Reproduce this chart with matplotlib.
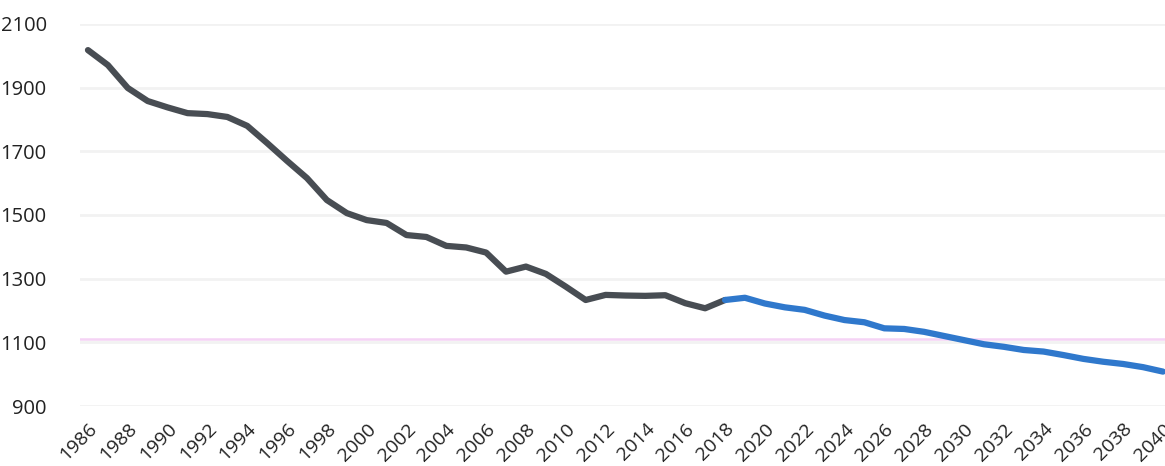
import matplotlib
matplotlib.use('Agg')
import matplotlib.pyplot as plt

# ── Datos ──
years_hist = list(range(1986, 2019))
values_hist = [2018, 1971, 1899, 1858, 1838, 1820, 1817, 1808, 1780, 1726,
               1670, 1616, 1547, 1506, 1484, 1475, 1437, 1431, 1403, 1398,
               1382, 1322, 1338, 1315, 1275, 1233, 1249, 1247, 1246, 1248,
               1223, 1207, 1233]

years_proj = list(range(2018, 2041))
values_proj = [1233, 1240, 1222, 1210, 1202, 1184, 1170, 1163, 1144, 1142,
               1133, 1120, 1107, 1094, 1086, 1076, 1071, 1060, 1048, 1039,
               1032, 1022, 1008]

ref_level = 1112
y_ticks = [900, 1100, 1300, 1500, 1700, 1900, 2100]
x_ticks = list(range(1986, 2041, 2))

plt.rcParams['font.family'] = ['Open Sans', 'DejaVu Sans']

fig = plt.figure(figsize=(11.65, 4.66), dpi=100)
ax = fig.add_axes([80 / 1165, 60 / 466, 1085 / 1165, 382 / 466])

for yt in y_ticks:
    ax.axhline(yt, color='#f2f2f2', linewidth=2, zorder=0)
ax.axhline(ref_level, color='#f5d3f5', linewidth=1.8, zorder=1)

ax.plot(years_hist, values_hist, color='#484d53', linewidth=4.5,
        solid_capstyle='round', solid_joinstyle='round', zorder=3)
ax.plot(years_proj, values_proj, color='#2f78cc', linewidth=4.5,
        solid_capstyle='round', solid_joinstyle='round', zorder=4)

ax.set_xlim(1985.6, 2040.1)
ax.set_ylim(900, 2100)
ax.set_yticks(y_ticks)
ax.set_yticklabels([str(v) for v in y_ticks], fontsize=14.5, color='#222222')
ax.set_xticks(x_ticks)
ax.set_xticklabels([str(v) for v in x_ticks], fontsize=14, color='#222222',
                   rotation=45, ha='right', rotation_mode='anchor')
ax.tick_params(axis='both', length=0)
ax.tick_params(axis='y', pad=24)
ax.tick_params(axis='x', pad=10)
for s in ax.spines.values():
    s.set_visible(False)

fig.savefig('out.png', dpi=100)
